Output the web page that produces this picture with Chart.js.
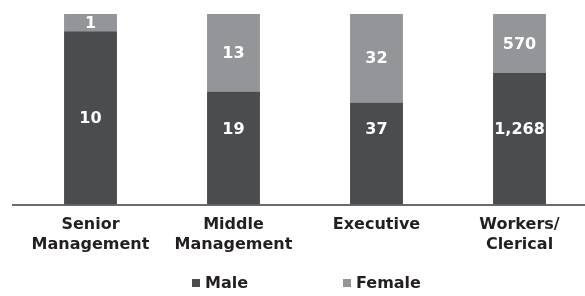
<!DOCTYPE html>
<html>
<head>
<meta charset="utf-8">
<script src="https://cdn.jsdelivr.net/npm/chart.js@4/dist/chart.umd.min.js"></script>
<style>
  html, body { margin: 0; padding: 0; background: #fff; overflow: hidden; }
  #wrap { position: relative; width: 592px; height: 275px; }
  #legend { position: absolute; top: 272px; left: 0; width: 585px; height: 22px;
            font: bold 16px "DejaVu Sans", sans-serif; color: #231f20; }
  #legend span.item { position: absolute; top: 0; line-height: 22px; white-space: nowrap; }
  #legend span.box { display: inline-block; width: 8px; height: 8px; margin-right: 5px; vertical-align: 1px; }
</style>
</head>
<body>
<div id="wrap"><canvas id="chart"></canvas></div>
<div id="legend"></div>
<script>
const categories = [['Senior', 'Management'], ['Middle', 'Management'], 'Executive', ['Workers/', 'Clerical']];
const seriesNames = ['Male', 'Female'];
const male = [10, 19, 37, 1268];
const female = [1, 13, 32, 570];

const colors = ['#4b4c4e', '#939598'];
const fontFamily = '"DejaVu Sans", sans-serif';

// 100% stacked: turn head counts into shares of each category
const totals = male.map((m, i) => m + female[i]);
const malePct = male.map((m, i) => m / totals[i] * 100);
const femalePct = female.map((f, i) => f / totals[i] * 100);

const valueLabels = {
    id: 'valueLabels',
    afterDatasetsDraw(chart) {
        const ctx = chart.ctx;
        const y = chart.scales.y;
        ctx.save();
        ctx.fillStyle = '#fff';
        ctx.font = 'bold 16px ' + fontFamily;
        ctx.textAlign = 'center';
        ctx.textBaseline = 'middle';
        chart.data.datasets.forEach((ds, di) => {
            chart.getDatasetMeta(di).data.forEach((bar, i) => {
                let cy = (bar.y + bar.base) / 2;
                // male figure sits in the lower part of the bar
                if (di === 0) cy = Math.min(cy, y.getPixelForValue(40));
                ctx.fillText(ds.counts[i].toLocaleString('en-US'), bar.x, cy + 1);
            });
        });
        ctx.restore();
    }
};

const axisLine = {
    id: 'axisLine',
    afterDatasetsDraw(chart) {
        const ctx = chart.ctx;
        const yb = chart.chartArea.bottom;
        ctx.save();
        ctx.strokeStyle = '#3a3a3c';
        ctx.lineWidth = 1.5;
        ctx.beginPath();
        ctx.moveTo(12, yb + 0.5);
        ctx.lineTo(chart.width, yb + 0.5);
        ctx.stroke();
        ctx.restore();
    }
};

const chart = new Chart(document.getElementById('chart'), {
    type: 'bar',
    data: {
        labels: categories,
        datasets: [
            { label: seriesNames[0], data: malePct, counts: male, backgroundColor: colors[0], barPercentage: 0.37, categoryPercentage: 1 },
            { label: seriesNames[1], data: femalePct, counts: female, backgroundColor: colors[1], barPercentage: 0.37, categoryPercentage: 1 }
        ]
    },
    options: {
        responsive: true,
        maintainAspectRatio: false,
        animation: false,
        layout: { padding: { top: 14, left: 19, right: 1, bottom: 10 } },
        scales: {
            x: {
                stacked: true,
                grid: { display: false, drawTicks: false },
                border: { display: false },
                ticks: {
                    color: '#231f20',
                    padding: 11,
                    maxRotation: 0,
                    autoSkip: false,
                    font: { family: fontFamily, size: 16, weight: 'bold', lineHeight: 1.2 }
                }
            },
            y: {
                stacked: true,
                display: false,
                min: 0,
                max: 100
            }
        },
        plugins: {
            tooltip: { enabled: false },
            legend: { display: false }
        }
    },
    plugins: [valueLabels, axisLine]
});

// legend below the chart
const legendLeft = [192, 343];
const legend = document.getElementById('legend');
chart.data.datasets.forEach((ds, i) => {
    const item = document.createElement('span');
    item.className = 'item';
    item.style.left = legendLeft[i] + 'px';
    const box = document.createElement('span');
    box.className = 'box';
    box.style.background = ds.backgroundColor;
    item.appendChild(box);
    item.appendChild(document.createTextNode(ds.label));
    legend.appendChild(item);
});
</script>
</body>
</html>
